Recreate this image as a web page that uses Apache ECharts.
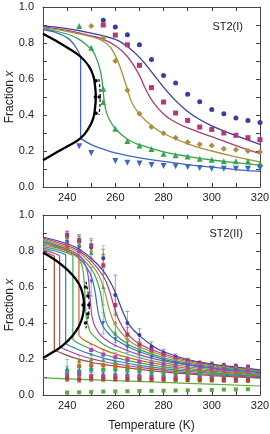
<!DOCTYPE html>
<html><head><meta charset="utf-8">
<script src="https://cdn.jsdelivr.net/npm/echarts@6/dist/echarts.min.js"></script>
<style>html,body{margin:0;padding:0;background:#fff}#c{width:270px;height:434px}</style>
</head><body><div id="c"></div>
<script>
// ---------- DATA: top panel ST2(I) ----------
const xTickValues = [240, 260, 280, 300, 320];
const topCircles = [[255,0.926],[260,0.889],[265,0.846],[270,0.79],[275,0.709],[280,0.62],[285,0.578],[290,0.515],[295,0.474],[300,0.43],[305,0.407],[310,0.383],[315,0.37],[320,0.359]];
const topSquares = [[255,0.90],[260,0.844],[265,0.79],[270,0.676],[275,0.552],[280,0.472],[285,0.411],[290,0.37],[295,0.333],[300,0.32],[305,0.30],[310,0.287],[315,0.274],[320,0.263]];
const topDiamonds = [[250,0.894],[255,0.828],[260,0.70],[265,0.537],[270,0.407],[275,0.333],[280,0.298],[285,0.274],[290,0.248],[295,0.237],[300,0.23],[305,0.213],[310,0.207],[315,0.2],[320,0.194]];
const topTriangles = [[245,0.894],[250,0.774],[255,0.546],[255,0.472],[260,0.324],[265,0.256],[270,0.23],[275,0.211],[280,0.185],[285,0.176],[290,0.169],[295,0.157],[300,0.152],[305,0.143],[310,0.143],[315,0.143],[320,0.13]];
const topDownTriangles = [[245,0.226],[250,0.189],[260,0.144],[265,0.135],[270,0.131],[275,0.122],[280,0.117],[285,0.115],[290,0.111],[295,0.106],[300,0.102],[305,0.102],[310,0.102],[315,0.102],[320,0.106]];

const topLineIndigo = [[230,0.895],[240,0.88],[250,0.855],[260,0.82],[265,0.78],[270,0.72],[275,0.64],[280,0.555],[285,0.48],[290,0.42],[295,0.375],[300,0.34],[310,0.285],[320,0.237]];
const topLineMagenta = [[230,0.89],[240,0.87],[250,0.84],[255,0.82],[260,0.785],[265,0.725],[270,0.62],[272,0.56],[275,0.485],[280,0.405],[285,0.36],[290,0.328],[300,0.28],[310,0.23],[320,0.185]];
const topLineGold = [[230,0.885],[240,0.865],[250,0.835],[255,0.81],[258,0.775],[260,0.73],[262,0.665],[264,0.585],[265.5,0.52],[267,0.465],[270,0.405],[275,0.34],[280,0.297],[290,0.24],[300,0.2],[310,0.168],[320,0.14]];
const topLineGreen = [[230,0.88],[240,0.85],[245,0.82],[250,0.765],[252,0.72],[253.5,0.66],[254.5,0.59],[255.2,0.5],[256,0.43],[257.5,0.375],[260,0.325],[265,0.265],[270,0.235],[280,0.195],[290,0.17],[300,0.15],[310,0.135],[320,0.122]];
const topLineBlue = [[230,0.875],[235,0.86],[240,0.83],[243,0.79],[245.6,0.725],[245.6,0.27],[250,0.235],[255,0.21],[260,0.19],[270,0.162],[280,0.142],[290,0.124],[300,0.11],[310,0.097],[320,0.087]];
const topBlack = [[230,0.852],[235,0.815],[240,0.775],[245.5,0.725],[249,0.672],[250.8,0.62],[251.6,0.56],[251.9,0.5],[251.6,0.44],[250.8,0.38],[249,0.328],[245.5,0.27],[240,0.225],[235,0.187],[230,0.148]];
const topBlackDash = [[253.2,0.6],[253.6,0.55],[253.7,0.5],[253.6,0.45],[253.2,0.4]];
const topBlackPts = [[251.7,0.5],[253.3,0.5],[252,0.59],[252,0.41]];

// ---------- DATA: bottom panel ST2(II) ----------
const botLine1 = [[230,0.878],[240,0.84],[245,0.81],[250,0.76],[255,0.69],[258,0.625],[260,0.57],[262,0.5],[264,0.435],[266,0.385],[270,0.33],[276,0.268],[280,0.24],[290,0.197],[300,0.172],[310,0.155],[320,0.14]];
const botLine2 = [[230,0.872],[240,0.83],[245,0.80],[250,0.745],[255,0.66],[257.5,0.58],[259.3,0.5],[261,0.43],[263,0.378],[265,0.34],[270,0.283],[280,0.228],[290,0.192],[300,0.168],[310,0.15],[320,0.136]];
const botLine3 = [[230,0.866],[240,0.82],[245,0.79],[250,0.725],[253,0.67],[255.5,0.58],[257,0.5],[258.5,0.435],[260,0.39],[265,0.31],[270,0.268],[280,0.218],[290,0.185],[300,0.163],[310,0.146],[320,0.132]];
const botLine4 = [[230,0.86],[240,0.81],[245,0.775],[250,0.70],[252,0.65],[253.8,0.57],[254.7,0.5],[255.6,0.435],[257,0.383],[260,0.335],[265,0.285],[270,0.252],[280,0.207],[290,0.177],[300,0.157],[310,0.142],[320,0.128]];
const botLine5 = [[230,0.853],[240,0.80],[245,0.76],[248,0.71],[250,0.66],[251.5,0.58],[252.4,0.5],[253.3,0.435],[255,0.378],[258,0.33],[260,0.31],[265,0.27],[270,0.24],[280,0.198],[290,0.17],[300,0.151],[310,0.137],[320,0.124]];
const botLine6 = [[230,0.846],[235,0.832],[240,0.81],[245,0.775],[247,0.74],[248.5,0.68],[249.3,0.58],[249.8,0.5],[250.4,0.43],[251.5,0.383],[253,0.348],[255,0.318],[260,0.275],[270,0.223],[280,0.19],[290,0.166],[300,0.147],[310,0.132],[320,0.118]];
const botLine7 = [[230,0.839],[235,0.825],[240,0.80],[243,0.78],[245,0.755],[246.5,0.70],[247.2,0.6],[247.6,0.5],[248,0.43],[249,0.372],[250,0.343],[255,0.282],[260,0.25],[270,0.207],[280,0.178],[290,0.157],[300,0.14],[310,0.127],[320,0.114]];
const botLine8 = [[230,0.832],[235,0.82],[240,0.80],[244.9,0.77],[244.9,0.33],[247,0.305],[250,0.285],[255,0.252],[260,0.228],[270,0.192],[280,0.167],[290,0.148],[300,0.133],[310,0.121],[320,0.11]];
const botLine9 = [[230,0.824],[235,0.81],[240,0.79],[242.4,0.775],[242.4,0.305],[245,0.285],[250,0.255],[255,0.228],[260,0.208],[270,0.178],[280,0.156],[290,0.14],[300,0.126],[310,0.115],[320,0.106]];
const botLine10 = [[230,0.816],[235,0.80],[239.4,0.78],[239.4,0.285],[242,0.268],[245,0.25],[250,0.226],[255,0.205],[260,0.19],[270,0.165],[280,0.146],[290,0.132],[300,0.12],[310,0.11],[320,0.102]];
const botLine11 = [[230,0.806],[233,0.795],[236.9,0.775],[236.9,0.268],[240,0.248],[245,0.222],[250,0.202],[255,0.186],[260,0.174],[270,0.153],[280,0.137],[290,0.124],[300,0.114],[310,0.105],[320,0.098]];
const botLine12 = [[230,0.795],[232.5,0.785],[234.7,0.772],[234.7,0.25],[240,0.22],[245,0.198],[250,0.182],[255,0.17],[260,0.16],[270,0.142],[280,0.128],[290,0.117],[300,0.108],[310,0.1],[320,0.094]];
const botLine13 = [[230,0.095],[260,0.08],[290,0.065],[320,0.05]];
const botBlack = [[230,0.79],[234,0.76],[238,0.72],[242,0.67],[245,0.615],[246.5,0.56],[247,0.5],[246.5,0.44],[245,0.385],[242,0.325],[238,0.273],[234,0.237],[230,0.205]];
const botBlackDash = [[247.8,0.63],[248.8,0.56],[249.2,0.5],[248.8,0.44],[247.8,0.37]];
const botBlackPts = [[246.6,0.5],[249,0.5],[247.6,0.6],[247.6,0.4],[248.6,0.55],[248.6,0.45]];

// points: [T, fraction, error]
const botPts1 = [[240,0.88,0.03],[245,0.85,0.03],[250,0.82,0.04],[255,0.76,0.05],[260,0.556,0.11],[265,0.40,0.065],[270,0.333,0.035],[275,0.27,0.025],[280,0.235,0.02],[285,0.213,0.015],[290,0.19,0.015],[295,0.178,0.012],[300,0.172,0.012],[305,0.167,0.01],[310,0.162,0.01],[315,0.157,0.01]];
const botPts2 = [[240,0.89,0.02],[245,0.86,0.03],[250,0.83,0.04],[255,0.72,0.05],[260,0.50,0.06],[265,0.335,0.04],[270,0.28,0.03],[275,0.25,0.02],[280,0.225,0.02],[285,0.205,0.015],[290,0.185,0.015],[295,0.172,0.012],[300,0.165,0.01],[305,0.16,0.01],[310,0.155,0.01],[315,0.15,0.01]];
const botPts3 = [[240,0.87,0.03],[245,0.84,0.03],[250,0.80,0.04],[255,0.78,0.05],[260,0.40,0.06],[265,0.31,0.04],[270,0.26,0.03],[275,0.235,0.02],[280,0.21,0.02],[285,0.195,0.015],[290,0.18,0.015],[295,0.168,0.012],[300,0.16,0.01],[305,0.155,0.01],[310,0.15,0.01],[315,0.145,0.01]];
const botPts4 = [[240,0.86,0.03],[245,0.83,0.06],[250,0.79,0.05],[255,0.60,0.1],[260,0.34,0.05],[265,0.28,0.03],[270,0.245,0.025],[275,0.22,0.02],[280,0.20,0.02],[285,0.185,0.015],[290,0.172,0.015],[295,0.16,0.012],[300,0.153,0.01],[305,0.148,0.01],[310,0.143,0.01],[315,0.138,0.01]];
const botPts5 = [[240,0.85,0.03],[245,0.82,0.03],[250,0.63,0.08],[255,0.40,0.06],[260,0.31,0.04],[265,0.265,0.03],[270,0.235,0.025],[275,0.21,0.02],[280,0.19,0.02],[285,0.176,0.015],[290,0.165,0.015],[295,0.155,0.012],[300,0.148,0.01],[305,0.142,0.01],[310,0.137,0.01],[315,0.132,0.01]];
const botPts6 = [[240,0.84,0.03],[245,0.80,0.03],[250,0.25,0.03],[255,0.225,0.03],[260,0.21,0.025],[265,0.195,0.02],[270,0.185,0.02],[275,0.175,0.015],[280,0.168,0.015],[285,0.16,0.012],[290,0.153,0.012],[295,0.147,0.01],[300,0.142,0.01],[305,0.137,0.01],[310,0.133,0.01],[315,0.128,0.01]];
const botPts7 = [[240,0.83,0.03],[245,0.19,0.03],[250,0.2,0.03],[255,0.195,0.025],[260,0.185,0.02],[265,0.175,0.02],[270,0.168,0.015],[275,0.16,0.015],[280,0.153,0.012],[285,0.147,0.012],[290,0.142,0.01],[295,0.137,0.01],[300,0.132,0.01],[305,0.128,0.01],[310,0.124,0.01],[315,0.12,0.01]];
const botPts8 = [[240,0.82,0.03],[245,0.16,0.03],[250,0.165,0.03],[255,0.165,0.025],[260,0.16,0.02],[265,0.155,0.02],[270,0.15,0.015],[275,0.145,0.015],[280,0.14,0.012],[285,0.135,0.012],[290,0.131,0.01],[295,0.127,0.01],[300,0.123,0.01],[305,0.12,0.01],[310,0.116,0.01],[315,0.113,0.01]];
const botPts9 = [[240,0.13,0.03],[245,0.13,0.03],[250,0.14,0.03],[255,0.14,0.025],[260,0.14,0.02],[265,0.135,0.02],[270,0.132,0.015],[275,0.128,0.015],[280,0.125,0.012],[285,0.121,0.012],[290,0.118,0.01],[295,0.115,0.01],[300,0.112,0.01],[305,0.11,0.01],[310,0.107,0.01],[315,0.105,0.01]];
const botPts10 = [[240,0.148,0.05],[245,0.14,0.04],[250,0.15,0.04],[255,0.12,0.025],[260,0.12,0.02],[265,0.118,0.02],[270,0.116,0.015],[275,0.113,0.015],[280,0.111,0.012],[285,0.108,0.012],[290,0.106,0.01],[295,0.104,0.01],[300,0.102,0.01],[305,0.1,0.01],[310,0.098,0.01],[315,0.096,0.01]];
const botPts11 = [[240,0.11,0.02],[245,0.115,0.02],[250,0.105,0.02],[255,0.105,0.02],[260,0.105,0.015],[265,0.103,0.015],[270,0.101,0.012],[275,0.1,0.012],[280,0.098,0.01],[285,0.097,0.01],[290,0.095,0.01],[295,0.093,0.01],[300,0.092,0.01],[305,0.09,0.01],[310,0.089,0.01],[315,0.088,0.01]];
const botPts12 = [[240,0.09,0.015],[245,0.085,0.015],[250,0.09,0.015],[255,0.088,0.015],[260,0.088,0.012],[265,0.087,0.012],[270,0.086,0.01],[275,0.085,0.01],[280,0.085,0.01],[285,0.084,0.01],[290,0.083,0.01],[295,0.082,0.01],[300,0.082,0.01],[305,0.081,0.01],[310,0.08,0.01],[315,0.08,0.01]];
const botPts13 = [[240,0.014,0.004],[245,0.015,0.004],[250,0.017,0.004],[255,0.019,0.004],[260,0.02,0.004],[265,0.021,0.004],[270,0.022,0.004],[275,0.023,0.004],[280,0.024,0.004],[285,0.025,0.004],[290,0.026,0.004],[295,0.027,0.004],[300,0.028,0.004],[305,0.03,0.004],[310,0.031,0.004],[315,0.032,0.004]];

// ---------- STYLES ----------
const FONT = 'Liberation Sans, Arial, sans-serif';
const col = {
  indigo:'#3b3ba8', magenta:'#b23a74', gold:'#a8913a', green:'#36a64e', blue:'#3a68c4',
  purple:'#a942c2', green2:'#4cae3c', orange:'#c4662a', green3:'#3da848', cyan:'#2a84b8',
  purple2:'#b040b0', brown:'#a8482e', lime:'#5aad3a'
};

function splitJump(d){
  for (let i=0;i<d.length-1;i++){ if (d[i][0]===d[i+1][0]) return [d.slice(0,i+1),[d[i],d[i+1]],d.slice(i+1)]; }
  return [d];
}
function lineS(data, color, g, width, dashed, sm){
  return splitJump(data).map(part => ({
    type:'line', data:part, xAxisIndex:g*2, yAxisIndex:g*2, symbol:'none',
    smooth: part.length > 2 ? (sm || 0.45) : false,
    silent:true, animation:false, z: width>2?5:3,
    lineStyle:{color, width, type: dashed ? [3,2] : 'solid'}
  }));
}
function scatS(data, color, g, symbol, size){
  return {type:'scatter', data:data.map(p=>[p[0],p[1]]), xAxisIndex:g*2, yAxisIndex:g*2,
    symbol, symbolSize:size, itemStyle:{color, opacity:1}, silent:true, animation:false, z:4};
}
function errS(data, color, g){
  return {type:'custom', xAxisIndex:g*2, yAxisIndex:g*2, silent:true, animation:false, z:2,
    data:data.map(p=>[p[0], p[1]-p[2], p[1]+p[2]]), encode:{x:0, y:[1,2]},
    renderItem:(params, api)=>{
      const a = api.coord([api.value(0), api.value(1)]);
      const b = api.coord([api.value(0), api.value(2)]);
      const st = {stroke:color, lineWidth:1, opacity:0.5};
      return {type:'group', children:[
        {type:'line', shape:{x1:a[0],y1:a[1],x2:b[0],y2:b[1]}, style:st},
        {type:'line', shape:{x1:a[0]-2,y1:a[1],x2:a[0]+2,y2:a[1]}, style:st},
        {type:'line', shape:{x1:b[0]-2,y1:b[1],x2:b[0]+2,y2:b[1]}, style:st}
      ]};
    }};
}

const axLine = {show:true, onZero:false, lineStyle:{color:'#444', width:1}};
const axTick = {show:true, inside:true, length:4, lineStyle:{color:'#444', width:1}};
function xAx(g, pos, labels, name){
  return {type:'value', gridIndex:g, position:pos, min:230, max:320, interval:10,
    axisLine:axLine, axisTick:axTick, splitLine:{show:false},
    axisLabel:{show:labels, margin:5, fontSize:11, color:'#222', fontFamily:FONT,
      formatter:v => xTickValues.includes(Math.round(v)) ? String(Math.round(v)) : ''},
    name: name || '', nameLocation:'middle', nameGap:25, nameMoveOverlap:false,
    nameTextStyle:{fontSize:12, color:'#222', fontFamily:FONT}};
}
function yAx(g, pos, labels){
  return {type:'value', gridIndex:g, position:pos, min:0, max:1, interval:0.1,
    axisLine:axLine, axisTick:axTick, splitLine:{show:false},
    axisLabel:{show:labels, margin:9, fontSize:11, color:'#222', fontFamily:FONT,
      formatter:v => (Math.round(v*10)%2===0 ? v.toFixed(1) : '')},
    name: labels ? '{a|Fraction }{b|x}' : '', nameLocation:'middle', nameGap:27, nameMoveOverlap:false,
    nameTextStyle:{fontSize:12, color:'#222', fontFamily:FONT,
      rich:{a:{fontSize:12, fontFamily:FONT, color:'#222'}, b:{fontSize:12, fontStyle:'italic', fontFamily:FONT, color:'#222'}}}};
}

const series = [];
// top panel
series.push(...lineS(topBlack, '#000', 0, 2.3, false, 0.45));
series.push(...lineS(topBlackDash, '#000', 0, 1.2, true, 0.3));
series.push(scatS(topBlackPts, '#000', 0, 'circle', 3.5));
series.push(...lineS(topLineIndigo, col.indigo, 0, 1.3));
series.push(...lineS(topLineMagenta, col.magenta, 0, 1.3));
series.push(...lineS(topLineGold, col.gold, 0, 1.3));
series.push(...lineS(topLineGreen, col.green, 0, 1.3));
series.push(...lineS(topLineBlue, col.blue, 0, 1.3));
series.push(scatS(topCircles, col.indigo, 0, 'circle', 5));
series.push(scatS(topSquares, col.magenta, 0, 'rect', 5));
series.push(scatS(topDiamonds, col.gold, 0, 'diamond', 6));
series.push(scatS(topTriangles, col.green, 0, 'triangle', 6));
series.push(scatS(topDownTriangles, col.blue, 0, 'path://M0,0L10,0L5,9Z', 6));

// bottom panel
const botLines = [botLine1,botLine2,botLine3,botLine4,botLine5,botLine6,botLine7,botLine8,botLine9,botLine10,botLine11,botLine12,botLine13];
const botPts = [botPts1,botPts2,botPts3,botPts4,botPts5,botPts6,botPts7,botPts8,botPts9,botPts10,botPts11,botPts12,botPts13];
const botCols = [col.indigo,col.magenta,col.gold,col.green,col.blue,col.purple,col.green2,col.orange,col.green3,col.cyan,col.purple2,col.brown,col.lime];
const botSyms = ['circle','rect','diamond','triangle','path://M0,0L10,0L5,9Z','rect','triangle','rect','rect','triangle','rect','rect','rect'];
series.push(...lineS(botBlack, '#000', 1, 2.3, false, 0.45));
series.push(...lineS(botBlackDash, '#000', 1, 1.2, true, 0.3));
series.push(scatS(botBlackPts, '#000', 1, 'circle', 3.5));
botLines.forEach((d,i)=>series.push(...lineS(d, botCols[i], 1, 1.2)));
botPts.forEach((d,i)=>{ series.push(errS(d, botCols[i], 1)); series.push(scatS(d, botCols[i], 1, botSyms[i], 4)); });

const chart = echarts.init(document.getElementById('c'), null, {renderer:'canvas'});
chart.setOption({
  animation:false,
  backgroundColor:'#fff',
  grid:[{left:43, top:7, width:217, height:180, outerBoundsMode:'none', containLabel:false},
        {left:43, top:215, width:217, height:180, outerBoundsMode:'none', containLabel:false}],
  xAxis:[xAx(0,'bottom',true), xAx(0,'top',false), xAx(1,'bottom',true,'Temperature (K)'), xAx(1,'top',false)],
  yAxis:[yAx(0,'left',true), yAx(0,'right',false), yAx(1,'left',true), yAx(1,'right',false)],
  graphic:[
    {type:'text', right:27, top:21, style:{text:'ST2(I)', font:'11px '+FONT, fill:'#222'}},
    {type:'text', right:27, top:228, style:{text:'ST2(II)', font:'11px '+FONT, fill:'#222'}}
  ],
  series
});
</script></body></html>
